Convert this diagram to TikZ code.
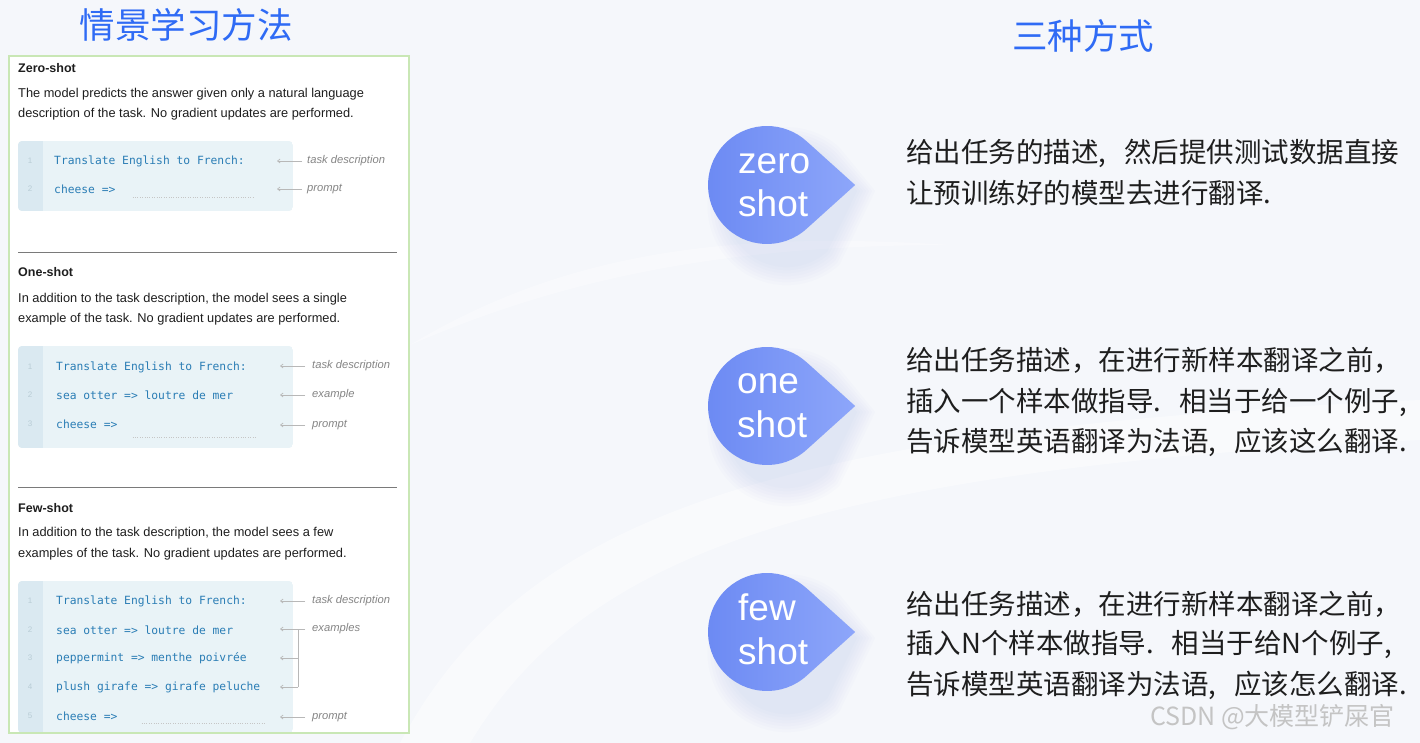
\documentclass[tikz,border=0pt]{standalone}
\usepackage{fontspec}
\setmainfont{Liberation Sans}
\newfontfamily\cjk{Noto Sans CJK SC}
\newfontfamily\codefont{DejaVu Sans Mono}
\usetikzlibrary{arrows.meta}
\definecolor{bgc}{HTML}{F5F7FB}
\definecolor{panelgreen}{HTML}{C9E7B5}
\definecolor{codebg}{HTML}{E9F3F7}
\definecolor{gutter}{HTML}{DAE9F1}
\definecolor{codeblue}{HTML}{2A7DB5}
\definecolor{numgray}{HTML}{B9CDD6}
\definecolor{lblgray}{HTML}{858585}
\definecolor{arrgray}{HTML}{B8B8B8}
\definecolor{sepgray}{HTML}{7A7A7A}
\definecolor{txt}{HTML}{1E1E1E}
\definecolor{titleblue}{HTML}{2F6BF5}
\definecolor{blobL}{HTML}{6B89F3}
\definecolor{blobR}{HTML}{8DA6FA}
\definecolor{wmgray}{HTML}{C4C4C4}
\newcommand\tdroppath[3]{(#1+1.494*#3,#2) -- ({#1+#3*cos(48)},{#2+#3*sin(48)}) arc[start angle=48,end angle=312,radius=#3] -- cycle}
\newcommand\mkcodebox[3]{% x-right, y-top, y-bottom
  \begin{scope}
    \clip[rounded corners=4] (18,#2) rectangle (#1,#3);
    \fill[codebg] (18,#2) rectangle (#1,#3);
    \fill[gutter] (18,#2) rectangle (43,#3);
  \end{scope}}
\newcommand\pgap{\hspace{18pt}}
\begin{document}
\begin{tikzpicture}[x=1pt,y=-1pt,
  title/.style={font=\cjk\fontsize{35.5}{40}\selectfont, text=titleblue, inner sep=0},
  head/.style={font=\fontsize{12.5}{14}\selectfont\bfseries, text=txt, anchor=west, inner sep=0},
  desc/.style={font=\fontsize{12.8}{14}\selectfont, text=txt, anchor=west, inner sep=0},
  code/.style={font=\codefont\fontsize{11.3}{13}\selectfont, text=codeblue, anchor=west, inner sep=0},
  num/.style={font=\fontsize{8}{9}\selectfont, text=numgray, inner sep=0},
  lbl/.style={font=\fontsize{11.2}{12}\selectfont\itshape, text=lblgray, anchor=west, inner sep=0},
  arr/.style={draw=arrgray, line width=0.7pt, -{Straight Barb[length=2.5pt,width=4pt]}},
  brk/.style={draw=arrgray, line width=0.7pt},
  dotl/.style={draw=arrgray!80, line width=0.6pt, dash pattern=on 0.8pt off 1.6pt},
  sep/.style={draw=sepgray, line width=0.8pt},
  blobtxt/.style={font=\fontsize{37}{40}\selectfont, text=white, anchor=base west, inner sep=0},
  cn/.style={font=\cjk\fontsize{27.5}{30}\selectfont, text=txt, anchor=base west, inner sep=0},
  wm/.style={font=\cjk\fontsize{25}{28}\selectfont, text=wmgray, anchor=west, inner sep=0}
]
\useasboundingbox (0,0) rectangle (1420,743);
\fill[bgc] (0,0) rectangle (1420,743);
% faint background sweeps
\fill[white,opacity=0.45] (400,743) .. controls (520,520) and (760,430) .. (1420,400) -- (1420,440) .. controls (800,470) and (580,560) .. (470,743) -- cycle;
\fill[white,opacity=0.35] (410,345) .. controls (560,255) and (720,230) .. (950,245) .. controls (720,245) and (560,280) .. (410,345) -- cycle;

% titles
\node[title] (t1) at (186,25) {情景学习方法};
\node[title] (t2) at (1083,36) {三种方式};

% left panel
\draw[panelgreen, fill=white, line width=1.5pt] (9,56) rectangle (409,733);

% ---- zero-shot
\node[head] (zh) at (18,68) {Zero-shot};
\node[desc] (zd1) at (18,94) {The model predicts the answer given only a natural language};
\node[desc] (zd2) at (18,114) {description of the task. No gradient updates are performed.};
\mkcodebox{293}{141}{211}
\node[num] (zn1) at (30,161) {1};
\node[num] (zn2) at (30,189) {2};
\node[code] (zc1) at (54,161) {Translate English to French:};
\node[code] (zc2) at (54,189) {cheese =>};
\draw[dotl] ([xshift=17pt,yshift=-8pt]zc2.east) -- ([xshift=138pt,yshift=-8pt]zc2.east);
\node[lbl] (zl1) at (307,161) {task description};
\node[lbl] (zl2) at (307,189) {prompt};
\draw[arr] ([xshift=-5pt]zl1.west) -- ([xshift=-30pt]zl1.west);
\draw[arr] ([xshift=-5pt]zl2.west) -- ([xshift=-30pt]zl2.west);

\draw[sep] (18,252) -- (397,252);

% ---- one-shot
\node[head] (oh) at (18,272) {One-shot};
\node[desc] (od1) at (18,299) {In addition to the task description, the model sees a single};
\node[desc] (od2) at (18,319) {example of the task. No gradient updates are performed.};
\mkcodebox{293}{346}{448}
\node[num] (on1) at (30,367) {1};
\node[num] (on2) at (30,395) {2};
\node[num] (on3) at (30,424) {3};
\node[code] (oc1) at (56,367) {Translate English to French:};
\node[code] (oc2) at (56,395) {sea otter => loutre de mer};
\node[code] (oc3) at (56,424) {cheese =>};
\draw[dotl] ([xshift=15pt,yshift=-13pt]oc3.east) -- ([xshift=138pt,yshift=-13pt]oc3.east);
\node[lbl] (ol1) at (312,366) {task description};
\node[lbl] (ol2) at (312,395) {example};
\node[lbl] (ol3) at (312,425) {prompt};
\draw[arr] ([xshift=-7pt]ol1.west) -- ([xshift=-32pt]ol1.west);
\draw[arr] ([xshift=-7pt]ol2.west) -- ([xshift=-32pt]ol2.west);
\draw[arr] ([xshift=-7pt]ol3.west) -- ([xshift=-32pt]ol3.west);

\draw[sep] (18,487) -- (397,487);

% ---- few-shot
\node[head] (fh) at (18,508) {Few-shot};
\node[desc] (fd1) at (18,533) {In addition to the task description, the model sees a few};
\node[desc] (fd2) at (18,554) {examples of the task. No gradient updates are performed.};
\mkcodebox{293}{581}{733}
\node[num] (fn1) at (30,601) {1};
\node[num] (fn2) at (30,630) {2};
\node[num] (fn3) at (30,658) {3};
\node[num] (fn4) at (30,687) {4};
\node[num] (fn5) at (30,716) {5};
\node[code] (fc1) at (56,601) {Translate English to French:};
\node[code] (fc2) at (56,630) {sea otter => loutre de mer};
\node[code] (fc3) at (56,658) {peppermint => menthe poivrée};
\node[code] (fc4) at (56,687) {plush girafe => girafe peluche};
\node[code] (fc5) at (56,716) {cheese =>};
\draw[dotl] ([xshift=24pt,yshift=-3pt]fc5.south east) -- ([xshift=147pt,yshift=-3pt]fc5.south east);
\node[lbl] (fl1) at (312,601) {task description};
\node[lbl] (fl2) at (312,629) {examples};
\node[lbl] (fl5) at (312,717) {prompt};
\coordinate (b3) at (298,658);
\coordinate (b4) at (298,687);
\draw[arr] ([xshift=-7pt]fl1.west) -- ([xshift=-32pt]fl1.west);
\draw[arr] ([xshift=-7pt]fl2.west) -- ([xshift=-32pt]fl2.west);
\draw[brk] ([xshift=-14pt]fl2.west) -- (b4);
\draw[arr] (b3) -- ++(-18,0);
\draw[arr] (b4) -- ++(-18,0);
\draw[arr] ([xshift=-7pt]fl5.west) -- ([xshift=-32pt]fl5.west);
\draw[panelgreen, line width=1.5pt] (9,733) -- (409,733);

% ---- teardrops
\foreach \cy in {185,406,632}{
  \foreach \k in {20,17,14,11,8,5,2}{
    \fill[blobL, opacity=0.02] \tdroppath{767}{\cy+6}{59+\k};
  }
  \shade[left color=blobL, right color=blobR] \tdroppath{767}{\cy}{59};
}
\node[blobtxt] (b1a) at (738,174) {zero};
\node[blobtxt] (b1b) at (738,217) {shot};
\node[blobtxt] (b2a) at (737,393) {one};
\node[blobtxt] (b2b) at (737,437) {shot};
\node[blobtxt] (b3a) at (738,620) {few};
\node[blobtxt] (b3b) at (738,664) {shot};

% ---- right descriptions
\node[cn] (z1) at (906,163) {给出任务的描述,\pgap 然后提供测试数据直接};
\node[cn] (z2) at (906,204) {让预训练好的模型去进行翻译.};
\node[cn] (o1) at (906,370) {给出任务描述，在进行新样本翻译之前，};
\node[cn] (o2) at (906,411) {插入一个样本做指导.\pgap 相当于给一个例子,};
\node[cn] (o3) at (906,451) {告诉模型英语翻译为法语,\pgap 应该这么翻译.};
\node[cn] (f1) at (906,614) {给出任务描述，在进行新样本翻译之前，};
\node[cn] (f2) at (906,653) {插入N个样本做指导.\pgap 相当于给N个例子,};
\node[cn] (f3) at (906,694) {告诉模型英语翻译为法语,\pgap 应该怎么翻译.};

\node[wm] (wmk) at (1150,717) {CSDN @大模型铲屎官};
\end{tikzpicture}
\end{document}
